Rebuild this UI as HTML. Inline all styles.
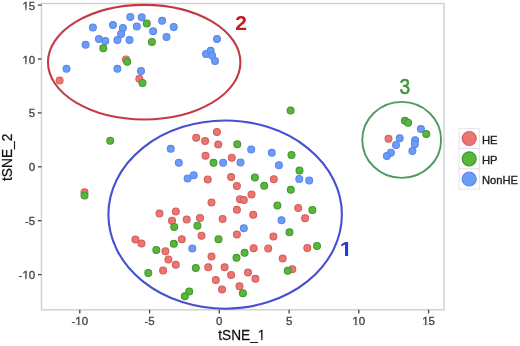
<!DOCTYPE html>
<html><head><meta charset="utf-8"><style>
html,body{margin:0;padding:0;background:#fff;}
body{width:520px;height:346px;overflow:hidden;}
svg{display:block;filter:blur(0.35px);}
text{font-family:"Liberation Sans",Arial,sans-serif;}
</style></head><body>
<svg width="520" height="346" viewBox="0 0 520 346">
<rect x="0" y="0" width="520" height="346" fill="#fff"/>
<rect x="41.5" y="3.5" width="402.5" height="306.3" fill="none" stroke="#cfcfcf" stroke-width="1.4"/>
<g stroke="#444" stroke-width="1.3"><line x1="79.8" y1="309.8" x2="79.8" y2="313.4" /><line x1="149.6" y1="309.8" x2="149.6" y2="313.4" /><line x1="219.3" y1="309.8" x2="219.3" y2="313.4" /><line x1="289.1" y1="309.8" x2="289.1" y2="313.4" /><line x1="358.8" y1="309.8" x2="358.8" y2="313.4" /><line x1="428.6" y1="309.8" x2="428.6" y2="313.4" /><line x1="37.9" y1="274.6" x2="41.5" y2="274.6" /><line x1="37.9" y1="220.7" x2="41.5" y2="220.7" /><line x1="37.9" y1="166.8" x2="41.5" y2="166.8" /><line x1="37.9" y1="112.9" x2="41.5" y2="112.9" /><line x1="37.9" y1="59.0" x2="41.5" y2="59.0" /><line x1="37.9" y1="5.1" x2="41.5" y2="5.1" /></g>
<clipPath id="cf"><path clip-rule="evenodd" d="M0 0H520V346H0Z M75.60 324.14h2.62v2.76h-2.62Z M79.23 324.14h2.53v2.76h-2.53Z M352.68 324.14h2.62v2.76h-2.62Z M356.31 324.14h2.53v2.76h-2.53Z M422.48 324.14h2.62v2.76h-2.62Z M426.11 324.14h2.53v2.76h-2.53Z M22.68 277.94h2.62v2.76h-2.62Z M26.32 277.94h2.53v2.76h-2.53Z M22.68 62.34h2.62v2.76h-2.62Z M26.32 62.34h2.53v2.76h-2.53Z M22.68 8.44h2.62v2.76h-2.62Z M26.32 8.44h2.53v2.76h-2.53Z M258.18 338.12h3.00v2.98h-3.00Z M262.39 338.12h2.89v2.98h-2.89Z"/></clipPath>
<g clip-path="url(#cf)">
<g font-size="11.5" fill="#484848" stroke="#484848" stroke-width="0.35"><text x="79.8" y="325.3" text-anchor="middle">-10</text><text x="149.6" y="325.3" text-anchor="middle">-5</text><text x="219.3" y="325.3" text-anchor="middle">0</text><text x="289.1" y="325.3" text-anchor="middle">5</text><text x="358.8" y="325.3" text-anchor="middle">10</text><text x="428.6" y="325.3" text-anchor="middle">15</text><text x="35.2" y="279.1" text-anchor="end">-10</text><text x="35.2" y="225.2" text-anchor="end">-5</text><text x="35.2" y="171.3" text-anchor="end">0</text><text x="35.2" y="117.4" text-anchor="end">5</text><text x="35.2" y="63.5" text-anchor="end">10</text><text x="35.2" y="9.6" text-anchor="end">15</text></g>
<text transform="translate(241.8,339.5) scale(0.95,1)" text-anchor="middle" font-size="14.4" fill="#111" stroke="#111" stroke-width="0.25">tSNE_1</text>
</g>
<text transform="translate(11.8,157.3) rotate(-90) scale(0.97,1)" text-anchor="middle" font-size="14.2" fill="#111" stroke="#111" stroke-width="0.25">tSNE_2</text>
<g>
<circle cx="126" cy="59.4" r="3.45" fill="#EB7670" stroke="#D45E5E" stroke-width="1.1"/>
<circle cx="139.3" cy="78.7" r="3.45" fill="#EB7670" stroke="#D45E5E" stroke-width="1.1"/>
<circle cx="59.6" cy="80.4" r="3.45" fill="#EB7670" stroke="#D45E5E" stroke-width="1.1"/>
<circle cx="84.5" cy="192.2" r="3.45" fill="#EB7670" stroke="#D45E5E" stroke-width="1.1"/>
<circle cx="388.5" cy="138.7" r="3.45" fill="#EB7670" stroke="#D45E5E" stroke-width="1.1"/>
<circle cx="216.9" cy="132" r="3.45" fill="#EB7670" stroke="#D45E5E" stroke-width="1.1"/>
<circle cx="196.2" cy="137.7" r="3.45" fill="#EB7670" stroke="#D45E5E" stroke-width="1.1"/>
<circle cx="205.1" cy="141.1" r="3.45" fill="#EB7670" stroke="#D45E5E" stroke-width="1.1"/>
<circle cx="218.2" cy="144.6" r="3.45" fill="#EB7670" stroke="#D45E5E" stroke-width="1.1"/>
<circle cx="205.5" cy="155.7" r="3.45" fill="#EB7670" stroke="#D45E5E" stroke-width="1.1"/>
<circle cx="231.8" cy="157.7" r="3.45" fill="#EB7670" stroke="#D45E5E" stroke-width="1.1"/>
<circle cx="207.7" cy="179.4" r="3.45" fill="#EB7670" stroke="#D45E5E" stroke-width="1.1"/>
<circle cx="231.1" cy="177.1" r="3.45" fill="#EB7670" stroke="#D45E5E" stroke-width="1.1"/>
<circle cx="236.9" cy="186" r="3.45" fill="#EB7670" stroke="#D45E5E" stroke-width="1.1"/>
<circle cx="251.5" cy="194.5" r="3.45" fill="#EB7670" stroke="#D45E5E" stroke-width="1.1"/>
<circle cx="240" cy="199.2" r="3.45" fill="#EB7670" stroke="#D45E5E" stroke-width="1.1"/>
<circle cx="243.8" cy="200.1" r="3.45" fill="#EB7670" stroke="#D45E5E" stroke-width="1.1"/>
<circle cx="211.5" cy="202.4" r="3.45" fill="#EB7670" stroke="#D45E5E" stroke-width="1.1"/>
<circle cx="236.9" cy="209.8" r="3.45" fill="#EB7670" stroke="#D45E5E" stroke-width="1.1"/>
<circle cx="253.2" cy="214.8" r="3.45" fill="#EB7670" stroke="#D45E5E" stroke-width="1.1"/>
<circle cx="159.5" cy="213.6" r="3.45" fill="#EB7670" stroke="#D45E5E" stroke-width="1.1"/>
<circle cx="175.8" cy="211.5" r="3.45" fill="#EB7670" stroke="#D45E5E" stroke-width="1.1"/>
<circle cx="273.8" cy="179.2" r="3.45" fill="#EB7670" stroke="#D45E5E" stroke-width="1.1"/>
<circle cx="298.2" cy="208" r="3.45" fill="#EB7670" stroke="#D45E5E" stroke-width="1.1"/>
<circle cx="305.1" cy="218.3" r="3.45" fill="#EB7670" stroke="#D45E5E" stroke-width="1.1"/>
<circle cx="186.7" cy="219.5" r="3.45" fill="#EB7670" stroke="#D45E5E" stroke-width="1.1"/>
<circle cx="200" cy="218" r="3.45" fill="#EB7670" stroke="#D45E5E" stroke-width="1.1"/>
<circle cx="222.6" cy="218.9" r="3.45" fill="#EB7670" stroke="#D45E5E" stroke-width="1.1"/>
<circle cx="172" cy="220.8" r="3.45" fill="#EB7670" stroke="#D45E5E" stroke-width="1.1"/>
<circle cx="181.8" cy="239.2" r="3.45" fill="#EB7670" stroke="#D45E5E" stroke-width="1.1"/>
<circle cx="135.4" cy="239.5" r="3.45" fill="#EB7670" stroke="#D45E5E" stroke-width="1.1"/>
<circle cx="141.5" cy="243.5" r="3.45" fill="#EB7670" stroke="#D45E5E" stroke-width="1.1"/>
<circle cx="165.4" cy="251.2" r="3.45" fill="#EB7670" stroke="#D45E5E" stroke-width="1.1"/>
<circle cx="168.4" cy="259.4" r="3.45" fill="#EB7670" stroke="#D45E5E" stroke-width="1.1"/>
<circle cx="175.8" cy="264.8" r="3.45" fill="#EB7670" stroke="#D45E5E" stroke-width="1.1"/>
<circle cx="163.1" cy="270.4" r="3.45" fill="#EB7670" stroke="#D45E5E" stroke-width="1.1"/>
<circle cx="201.5" cy="235.7" r="3.45" fill="#EB7670" stroke="#D45E5E" stroke-width="1.1"/>
<circle cx="236.9" cy="234.6" r="3.45" fill="#EB7670" stroke="#D45E5E" stroke-width="1.1"/>
<circle cx="253.6" cy="248.2" r="3.45" fill="#EB7670" stroke="#D45E5E" stroke-width="1.1"/>
<circle cx="211.5" cy="256.6" r="3.45" fill="#EB7670" stroke="#D45E5E" stroke-width="1.1"/>
<circle cx="273.4" cy="236.5" r="3.45" fill="#EB7670" stroke="#D45E5E" stroke-width="1.1"/>
<circle cx="268.2" cy="248.5" r="3.45" fill="#EB7670" stroke="#D45E5E" stroke-width="1.1"/>
<circle cx="307.3" cy="247.9" r="3.45" fill="#EB7670" stroke="#D45E5E" stroke-width="1.1"/>
<circle cx="282.7" cy="258.6" r="3.45" fill="#EB7670" stroke="#D45E5E" stroke-width="1.1"/>
<circle cx="208.2" cy="267.3" r="3.45" fill="#EB7670" stroke="#D45E5E" stroke-width="1.1"/>
<circle cx="224.6" cy="267.3" r="3.45" fill="#EB7670" stroke="#D45E5E" stroke-width="1.1"/>
<circle cx="231.1" cy="275" r="3.45" fill="#EB7670" stroke="#D45E5E" stroke-width="1.1"/>
<circle cx="248" cy="272.4" r="3.45" fill="#EB7670" stroke="#D45E5E" stroke-width="1.1"/>
<circle cx="215.8" cy="280.1" r="3.45" fill="#EB7670" stroke="#D45E5E" stroke-width="1.1"/>
<circle cx="222" cy="289.6" r="3.45" fill="#EB7670" stroke="#D45E5E" stroke-width="1.1"/>
<circle cx="239.5" cy="286.3" r="3.45" fill="#EB7670" stroke="#D45E5E" stroke-width="1.1"/>
<circle cx="255.4" cy="278.8" r="3.45" fill="#EB7670" stroke="#D45E5E" stroke-width="1.1"/>
<circle cx="292.3" cy="269.3" r="3.45" fill="#EB7670" stroke="#D45E5E" stroke-width="1.1"/>
<circle cx="130.3" cy="16.9" r="3.45" fill="#6B9DF8" stroke="#5A86E8" stroke-width="1.1"/>
<circle cx="141.7" cy="17.2" r="3.45" fill="#6B9DF8" stroke="#5A86E8" stroke-width="1.1"/>
<circle cx="162.1" cy="20.8" r="3.45" fill="#6B9DF8" stroke="#5A86E8" stroke-width="1.1"/>
<circle cx="113" cy="25" r="3.45" fill="#6B9DF8" stroke="#5A86E8" stroke-width="1.1"/>
<circle cx="122.9" cy="27.9" r="3.45" fill="#6B9DF8" stroke="#5A86E8" stroke-width="1.1"/>
<circle cx="136.8" cy="26.6" r="3.45" fill="#6B9DF8" stroke="#5A86E8" stroke-width="1.1"/>
<circle cx="121.1" cy="34.0" r="3.45" fill="#6B9DF8" stroke="#5A86E8" stroke-width="1.1"/>
<circle cx="117.4" cy="40.1" r="3.45" fill="#6B9DF8" stroke="#5A86E8" stroke-width="1.1"/>
<circle cx="129.5" cy="40.1" r="3.45" fill="#6B9DF8" stroke="#5A86E8" stroke-width="1.1"/>
<circle cx="105.3" cy="41" r="3.45" fill="#6B9DF8" stroke="#5A86E8" stroke-width="1.1"/>
<circle cx="98.9" cy="39" r="3.45" fill="#6B9DF8" stroke="#5A86E8" stroke-width="1.1"/>
<circle cx="153.1" cy="31.2" r="3.45" fill="#6B9DF8" stroke="#5A86E8" stroke-width="1.1"/>
<circle cx="173.7" cy="26.9" r="3.45" fill="#6B9DF8" stroke="#5A86E8" stroke-width="1.1"/>
<circle cx="166.5" cy="36.9" r="3.45" fill="#6B9DF8" stroke="#5A86E8" stroke-width="1.1"/>
<circle cx="85.6" cy="44.8" r="3.45" fill="#6B9DF8" stroke="#5A86E8" stroke-width="1.1"/>
<circle cx="66.5" cy="68.8" r="3.45" fill="#6B9DF8" stroke="#5A86E8" stroke-width="1.1"/>
<circle cx="117.4" cy="68.8" r="3.45" fill="#6B9DF8" stroke="#5A86E8" stroke-width="1.1"/>
<circle cx="141" cy="71" r="3.45" fill="#6B9DF8" stroke="#5A86E8" stroke-width="1.1"/>
<circle cx="217" cy="39" r="3.45" fill="#6B9DF8" stroke="#5A86E8" stroke-width="1.1"/>
<circle cx="206" cy="54" r="3.45" fill="#6B9DF8" stroke="#5A86E8" stroke-width="1.1"/>
<circle cx="210.6" cy="50.8" r="3.45" fill="#6B9DF8" stroke="#5A86E8" stroke-width="1.1"/>
<circle cx="212" cy="55.5" r="3.45" fill="#6B9DF8" stroke="#5A86E8" stroke-width="1.1"/>
<circle cx="215" cy="61" r="3.45" fill="#6B9DF8" stroke="#5A86E8" stroke-width="1.1"/>
<circle cx="92.9" cy="27.5" r="3.45" fill="#6B9DF8" stroke="#5A86E8" stroke-width="1.1"/>
<circle cx="420.9" cy="129.1" r="3.45" fill="#6B9DF8" stroke="#5A86E8" stroke-width="1.1"/>
<circle cx="399.7" cy="138.3" r="3.45" fill="#6B9DF8" stroke="#5A86E8" stroke-width="1.1"/>
<circle cx="396" cy="145" r="3.45" fill="#6B9DF8" stroke="#5A86E8" stroke-width="1.1"/>
<circle cx="390.9" cy="152.7" r="3.45" fill="#6B9DF8" stroke="#5A86E8" stroke-width="1.1"/>
<circle cx="386.9" cy="155.9" r="3.45" fill="#6B9DF8" stroke="#5A86E8" stroke-width="1.1"/>
<circle cx="415.1" cy="140.3" r="3.45" fill="#6B9DF8" stroke="#5A86E8" stroke-width="1.1"/>
<circle cx="414.8" cy="144.2" r="3.45" fill="#6B9DF8" stroke="#5A86E8" stroke-width="1.1"/>
<circle cx="412.4" cy="151.1" r="3.45" fill="#6B9DF8" stroke="#5A86E8" stroke-width="1.1"/>
<circle cx="170.7" cy="148.8" r="3.45" fill="#6B9DF8" stroke="#5A86E8" stroke-width="1.1"/>
<circle cx="178.8" cy="162.7" r="3.45" fill="#6B9DF8" stroke="#5A86E8" stroke-width="1.1"/>
<circle cx="223.1" cy="162.7" r="3.45" fill="#6B9DF8" stroke="#5A86E8" stroke-width="1.1"/>
<circle cx="240.5" cy="162.4" r="3.45" fill="#6B9DF8" stroke="#5A86E8" stroke-width="1.1"/>
<circle cx="251.2" cy="149.5" r="3.45" fill="#6B9DF8" stroke="#5A86E8" stroke-width="1.1"/>
<circle cx="271.8" cy="152.8" r="3.45" fill="#6B9DF8" stroke="#5A86E8" stroke-width="1.1"/>
<circle cx="278.9" cy="165.3" r="3.45" fill="#6B9DF8" stroke="#5A86E8" stroke-width="1.1"/>
<circle cx="187.6" cy="178.4" r="3.45" fill="#6B9DF8" stroke="#5A86E8" stroke-width="1.1"/>
<circle cx="193.7" cy="175.2" r="3.45" fill="#6B9DF8" stroke="#5A86E8" stroke-width="1.1"/>
<circle cx="299.3" cy="179" r="3.45" fill="#6B9DF8" stroke="#5A86E8" stroke-width="1.1"/>
<circle cx="309.2" cy="180.4" r="3.45" fill="#6B9DF8" stroke="#5A86E8" stroke-width="1.1"/>
<circle cx="243.8" cy="228.2" r="3.45" fill="#6B9DF8" stroke="#5A86E8" stroke-width="1.1"/>
<circle cx="192.3" cy="248.5" r="3.45" fill="#6B9DF8" stroke="#5A86E8" stroke-width="1.1"/>
<circle cx="281.5" cy="220.3" r="3.45" fill="#6B9DF8" stroke="#5A86E8" stroke-width="1.1"/>
<circle cx="146.8" cy="23.4" r="3.45" fill="#5AB53C" stroke="#409A30" stroke-width="1.1"/>
<circle cx="151.9" cy="41.9" r="3.45" fill="#5AB53C" stroke="#409A30" stroke-width="1.1"/>
<circle cx="103.3" cy="48.3" r="3.45" fill="#5AB53C" stroke="#409A30" stroke-width="1.1"/>
<circle cx="127.2" cy="61.7" r="3.45" fill="#5AB53C" stroke="#409A30" stroke-width="1.1"/>
<circle cx="142.5" cy="83" r="3.45" fill="#5AB53C" stroke="#409A30" stroke-width="1.1"/>
<circle cx="110.2" cy="140.7" r="3.45" fill="#5AB53C" stroke="#409A30" stroke-width="1.1"/>
<circle cx="84.5" cy="195.5" r="3.45" fill="#5AB53C" stroke="#409A30" stroke-width="1.1"/>
<circle cx="290.6" cy="110.6" r="3.45" fill="#5AB53C" stroke="#409A30" stroke-width="1.1"/>
<circle cx="404.9" cy="120.8" r="3.45" fill="#5AB53C" stroke="#409A30" stroke-width="1.1"/>
<circle cx="408.1" cy="122.7" r="3.45" fill="#5AB53C" stroke="#409A30" stroke-width="1.1"/>
<circle cx="426.3" cy="133.9" r="3.45" fill="#5AB53C" stroke="#409A30" stroke-width="1.1"/>
<circle cx="237.3" cy="144.2" r="3.45" fill="#5AB53C" stroke="#409A30" stroke-width="1.1"/>
<circle cx="213.5" cy="162.8" r="3.45" fill="#5AB53C" stroke="#409A30" stroke-width="1.1"/>
<circle cx="291.5" cy="155" r="3.45" fill="#5AB53C" stroke="#409A30" stroke-width="1.1"/>
<circle cx="299.5" cy="170.6" r="3.45" fill="#5AB53C" stroke="#409A30" stroke-width="1.1"/>
<circle cx="254.9" cy="177.5" r="3.45" fill="#5AB53C" stroke="#409A30" stroke-width="1.1"/>
<circle cx="264.2" cy="185.8" r="3.45" fill="#5AB53C" stroke="#409A30" stroke-width="1.1"/>
<circle cx="290.8" cy="189.8" r="3.45" fill="#5AB53C" stroke="#409A30" stroke-width="1.1"/>
<circle cx="277.4" cy="205.5" r="3.45" fill="#5AB53C" stroke="#409A30" stroke-width="1.1"/>
<circle cx="312.4" cy="210" r="3.45" fill="#5AB53C" stroke="#409A30" stroke-width="1.1"/>
<circle cx="174.2" cy="226.9" r="3.45" fill="#5AB53C" stroke="#409A30" stroke-width="1.1"/>
<circle cx="173.8" cy="243.8" r="3.45" fill="#5AB53C" stroke="#409A30" stroke-width="1.1"/>
<circle cx="156.3" cy="250" r="3.45" fill="#5AB53C" stroke="#409A30" stroke-width="1.1"/>
<circle cx="197.4" cy="225.7" r="3.45" fill="#5AB53C" stroke="#409A30" stroke-width="1.1"/>
<circle cx="218.5" cy="239.2" r="3.45" fill="#5AB53C" stroke="#409A30" stroke-width="1.1"/>
<circle cx="244.6" cy="252.8" r="3.45" fill="#5AB53C" stroke="#409A30" stroke-width="1.1"/>
<circle cx="236.5" cy="257.8" r="3.45" fill="#5AB53C" stroke="#409A30" stroke-width="1.1"/>
<circle cx="289.5" cy="232.3" r="3.45" fill="#5AB53C" stroke="#409A30" stroke-width="1.1"/>
<circle cx="317" cy="246" r="3.45" fill="#5AB53C" stroke="#409A30" stroke-width="1.1"/>
<circle cx="148.3" cy="273" r="3.45" fill="#5AB53C" stroke="#409A30" stroke-width="1.1"/>
<circle cx="195.8" cy="268.1" r="3.45" fill="#5AB53C" stroke="#409A30" stroke-width="1.1"/>
<circle cx="189.2" cy="291.5" r="3.45" fill="#5AB53C" stroke="#409A30" stroke-width="1.1"/>
<circle cx="184.8" cy="296.2" r="3.45" fill="#5AB53C" stroke="#409A30" stroke-width="1.1"/>
<circle cx="242.9" cy="293.2" r="3.45" fill="#5AB53C" stroke="#409A30" stroke-width="1.1"/>
<circle cx="287.7" cy="270.8" r="3.45" fill="#5AB53C" stroke="#409A30" stroke-width="1.1"/>
</g>
<ellipse cx="144.2" cy="62.2" rx="96.2" ry="57.3" fill="none" stroke="#C43A44" stroke-width="2.1"/>
<ellipse cx="225.15" cy="214.6" rx="116.75" ry="94.1" fill="none" stroke="#4650D0" stroke-width="2.1"/>
<ellipse cx="401.7" cy="139.9" rx="39.4" ry="38" fill="none" stroke="#4F9A62" stroke-width="1.9"/>
<text x="241" y="30.2" text-anchor="middle" font-size="21" font-weight="bold" fill="#C8181E">2</text>
<text transform="translate(404.8,94.2) scale(0.87,1)" text-anchor="middle" font-size="22" fill="#3C963C" stroke="#3C963C" stroke-width="0.55">3</text>
<clipPath id="c1"><path d="M330 225H360V253.6H330Z M345.0 253H348.2V260H345.0Z"/></clipPath>
<g clip-path="url(#c1)"><text transform="translate(339.75,255.7) scale(1.12,1)" font-size="20.2" font-weight="bold" fill="#2A3AD8">1</text></g>
<g stroke="#e2dce6" stroke-width="0.8" fill="#fff">
<rect x="459" y="128.3" width="20.3" height="20.3"/>
<rect x="459" y="148.6" width="20.3" height="20.3"/>
<rect x="459" y="168.9" width="20.3" height="20.3"/>
</g>
<circle cx="469.2" cy="138.5" r="7.0" fill="#EB7670" stroke="#D45E5E" stroke-width="1.2"/>
<circle cx="469.2" cy="158.8" r="7.0" fill="#5AB53C" stroke="#409A30" stroke-width="1.2"/>
<circle cx="469.2" cy="179" r="7.0" fill="#6B9DF8" stroke="#5A86E8" stroke-width="1.2"/>
<g font-size="11.2" fill="#222" stroke="#222" stroke-width="0.35">
<text x="482" y="143.7">HE</text>
<text x="482" y="164.4">HP</text>
<text x="482" y="183.8">NonHE</text>
</g>
</svg>
</body></html>
